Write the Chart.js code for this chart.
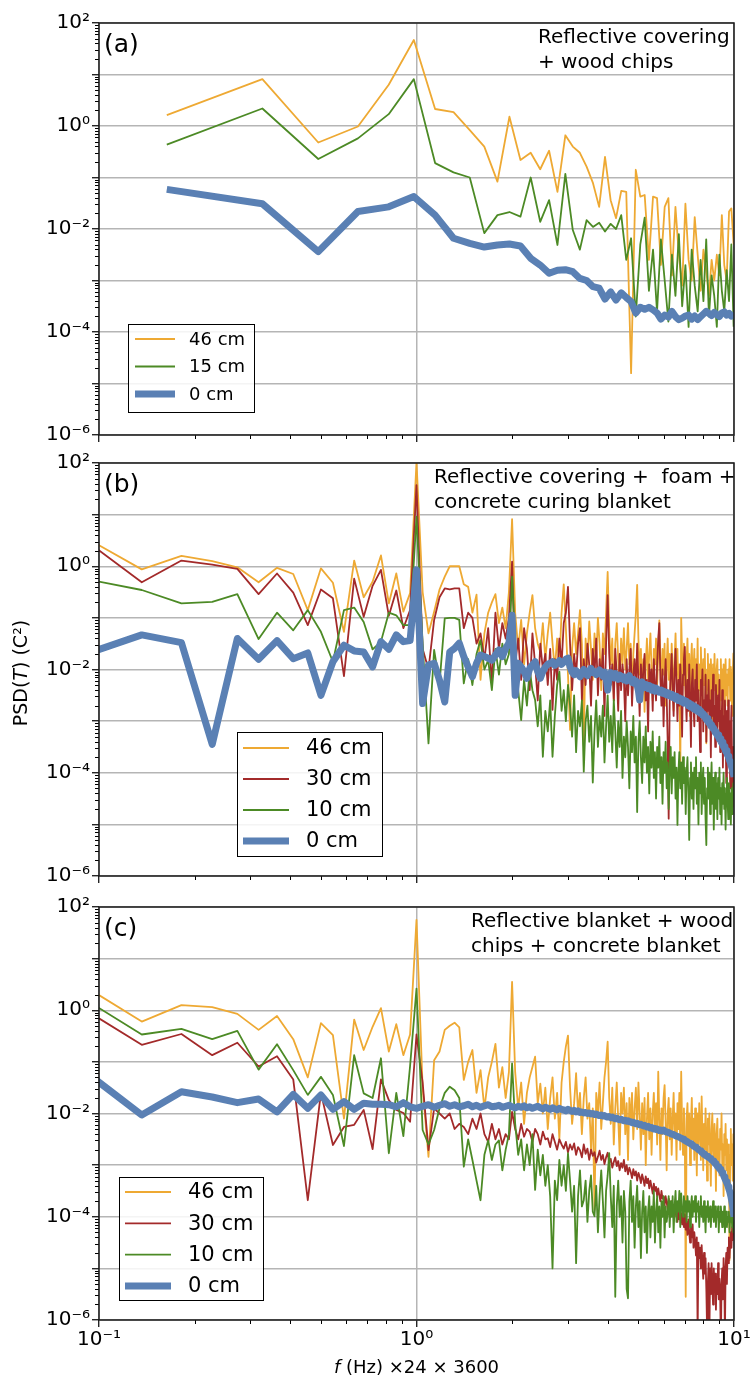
<!DOCTYPE html>
<html>
<head>
<meta charset="utf-8">
<script src="https://cdn.jsdelivr.net/npm/chart.js@4.4.1/dist/chart.umd.min.js"></script>
<style>
  html, body { margin: 0; padding: 0; background: #fff; }
  #wrap { position: relative; width: 750px; height: 1379px; overflow: hidden; }
  canvas { position: absolute; left: 0; }
</style>
</head>
<body>
<div id="wrap">
  <canvas id="panelA" width="750" height="455" style="top:0px"></canvas>
  <canvas id="panelB" width="750" height="446" style="top:440px"></canvas>
  <canvas id="panelC" width="750" height="499" style="top:880px"></canvas>
</div>
<script>
const FAMILY = "'DejaVu Sans', sans-serif";
const GRID = '#b5b5b5';

const COL_46 = '#eea933';
const COL_30 = '#a32a2a';
const COL_MID = '#4c8a25';
const COL_0 = '#5a80b4';

// frequency bins (x = bin * k)
const binA = 0.1635, firstBinA = 1;
const binBC = 1 / 22, firstBinBC = 2;

// ticks
const xTicks = [0.1, 0.2, 0.3, 0.4, 0.5, 0.6, 0.7, 0.8, 0.9, 1, 2, 3, 4, 5, 6, 7, 8, 9, 10];
const xLabelExps = [-1, 0, 1];
const xTickLabels = ['10⁻¹', '10⁰', '10¹'];
const yDecadeExps = [-6, -5, -4, -3, -2, -1, 0, 1];
const yLabelExps = [2, 0, -2, -4, -6];
const yTickLabels = ['10²', '10⁰', '10⁻²', '10⁻⁴', '10⁻⁶'];

// ---- panel (a): log10 PSD, k = 1..61 ----
const logA46 = [
  0.21, 0.91, -0.32, -0.01, 0.80, 1.67, 0.33, 0.27, -0.08, -0.40,
  -1.08, 0.18, -0.66, -0.52, -0.84, -0.48, -1.28, -0.18, -0.40, -0.52,
  -0.79, -1.11, -1.57, -0.60, -1.44, -1.79, -1.26, -1.28, -4.80, -0.85,
  -1.37, -1.34, -2.60, -1.37, -1.40, -2.70, -1.57, -1.40, -2.90, -1.57,
  -2.50, -3.10, -1.51, -2.60, -3.00, -1.77, -2.50, -3.20, -2.40, -2.80,
  -3.30, -2.60, -3.00, -2.50, -2.90, -1.73, -2.70, -3.00, -1.66, -1.60,
  -2.30
];
const logA15 = [
  -0.36, 0.34, -0.64, -0.24, 0.23, 0.91, -0.72, -0.90, -1.00, -2.08,
  -1.73, -1.67, -1.76, -1.00, -1.86, -1.44, -2.31, -0.93, -2.02, -2.40,
  -1.83, -1.96, -1.88, -2.05, -1.90, -2.00, -1.73, -2.60, -2.18, -3.70,
  -2.30, -1.78, -3.20, -2.40, -3.60, -2.20, -3.00, -3.80, -2.50, -3.30,
  -2.10, -3.50, -2.70, -3.90, -2.40, -3.10, -3.60, -2.60, -3.40, -2.20,
  -3.70, -2.90, -3.30, -3.90, -2.50, -3.20, -3.60, -2.80, -3.40, -2.30,
  -3.90
];
const logA0 = [
  -1.23, -1.51, -2.44, -1.66, -1.57, -1.37, -1.73, -2.18, -2.28, -2.35,
  -2.31, -2.29, -2.33, -2.57, -2.70, -2.86, -2.80, -2.79, -2.83, -2.96,
  -3.00, -3.12, -3.15, -3.36, -3.22, -3.38, -3.24, -3.33, -3.41, -3.63,
  -3.52, -3.56, -3.52, -3.57, -3.63, -3.75, -3.67, -3.71, -3.60, -3.70,
  -3.76, -3.73, -3.69, -3.67, -3.75, -3.69, -3.76, -3.70, -3.65, -3.60,
  -3.64, -3.68, -3.62, -3.66, -3.70, -3.63, -3.61, -3.67, -3.64, -3.69,
  -3.62
];

// ---- panel (b): log10 PSD, k = 2..220 ----
const logB46 = [
  0.55, -0.06, 0.20, 0.10, -0.02, -0.31, -0.03, -0.15, -0.85, -0.04,
  -0.32, -1.27, 0.11, -0.60, -0.30, 0.21, -0.72, -0.14, -0.88, -0.52,
  2.02, -0.50, -1.30, -0.88, -0.45, -0.20, 0.00, 0.00, 0.00, -0.35,
  -0.40, -0.90, -0.55, -2.20, -1.30, -0.90, -0.70, -0.54, -1.10, -0.80,
  -1.20, -0.50, 0.91, -0.90, -1.60, -1.04, -1.90, -1.30, -0.90, -0.56,
  -1.20, -1.50, -1.66, -1.10, -1.80, -1.30, -0.90, -1.50, -2.00, -1.40,
  -1.92, -0.90, -0.35, -1.20, -2.10, -3.17, -1.60, -1.10, -1.70, -1.30,
  -0.85, -1.50, -3.47, -1.40, -1.90, -1.07, -1.60, -2.20, -1.30, -1.80,
  -1.00, -1.50, -2.40, -1.30, -1.70, -0.90, -0.11, -1.20, -1.90, -1.40,
  -2.60, -1.50, -1.10, -1.80, -2.30, -1.40, -1.90, -1.20, -2.00, -1.60,
  -1.10, -1.90, -1.50, -2.50, -1.70, -1.30, -0.90, -0.36, -1.40, -2.10,
  -1.60, -2.40, -1.80, -2.82, -1.90, -1.40, -2.20, -1.70, -1.30, -2.00,
  -2.60, -1.60, -1.90, -1.40, -2.30, -1.70, -1.05, -1.80, -2.40, -1.60,
  -2.10, -1.50, -2.70, -1.90, -1.40, -2.20, -1.70, -2.50, -1.50, -2.00,
  -2.80, -1.80, -1.30, -2.10, -1.60, -2.40, -1.90, -4.08, -1.00, -1.70,
  -2.30, -1.50, -2.00, -2.60, -1.80, -1.40, -2.20, -1.70, -2.90, -1.90,
  -1.50, -2.30, -2.00, -1.60, -2.50, -1.80, -2.20, -1.40, -2.70, -1.90,
  -2.40, -1.57, -2.10, -2.80, -1.80, -2.30, -1.60, -2.50, -3.43, -2.00,
  -1.70, -2.40, -1.90, -2.60, -1.80, -2.20, -3.00, -1.90, -2.40, -1.70,
  -2.30, -2.80, -2.00, -1.80, -2.50, -2.10, -3.10, -2.20, -1.80, -2.60,
  -2.00, -2.40, -1.90, -2.90, -2.20, -1.80, -2.50, -2.10, -2.70, -2.00,
  -2.30, -1.80, -2.60, -1.95, -2.40, -2.90, -2.10, -1.69, -2.30
];
const logB30 = [
  0.50, -0.31, 0.11, 0.03, -0.05, -0.54, -0.14, -0.51, -1.14, -0.45,
  -0.62, -2.13, -0.24, -0.98, -0.38, -0.07, -0.96, -0.47, -1.20, -0.85,
  1.57, -1.60, -2.00, -1.04, -0.60, -0.43, -0.45, -0.43, -0.43, -1.20,
  -0.90, -1.00, -1.50, -1.30, -1.80, -1.20, -2.27, -0.90, -1.60, -1.10,
  -1.40, -1.00, 0.09, -1.90, -1.40, -2.20, -1.20, -1.60, -2.40, -1.30,
  -1.90, -2.60, -1.50, -2.00, -1.70, -2.30, -1.60, -2.78, -1.80, -2.20,
  -1.40, -1.90, -1.10, -0.90, -0.40, -1.50, -2.40, -1.70, -2.10, -1.50,
  -1.20, -2.60, -1.80, -2.30, -1.50, -1.90, -2.70, -1.60, -2.10, -1.40,
  -2.50, -1.80, -2.20, -1.60, -2.90, -1.50, -0.56, -1.70, -2.30, -1.90,
  -2.60, -1.60, -2.10, -2.80, -1.70, -2.40, -1.90, -2.20, -3.00, -1.80,
  -2.50, -2.00, -1.60, -2.70, -2.10, -1.80, -2.40, -1.50, -2.20, -2.90,
  -1.90, -2.50, -2.00, -1.70, -2.60, -2.20, -3.20, -1.90, -2.40, -2.00,
  -2.80, -1.80, -2.30, -2.60, -1.90, -1.40, -1.10, -2.20, -2.70, -2.00,
  -3.10, -2.30, -1.80, -2.50, -3.40, -4.89, -2.60, -2.10, -1.70, -2.40,
  -2.90, -2.00, -1.60, -2.30, -3.00, -2.20, -2.70, -1.90, -2.40, -3.30,
  -2.10, -1.80, -1.56, -2.50, -3.00, -2.20, -2.80, -1.90, -2.60, -3.50,
  -2.30, -2.00, -2.70, -3.10, -2.20, -2.60, -1.90, -3.00, -2.40, -2.80,
  -3.60, -2.20, -2.50, -2.00, -3.20, -2.60, -2.90, -2.10, -3.40, -2.50,
  -2.80, -2.20, -3.00, -2.60, -3.70, -2.40, -2.90, -2.10, -3.10, -2.70,
  -3.50, -2.30, -2.90, -3.30, -2.50, -3.00, -2.20, -3.60, -2.80, -3.20,
  -2.40, -3.90, -2.90, -3.40, -2.60, -3.10, -4.20, -2.80, -3.50, -2.60,
  -3.80, -3.00, -4.30, -3.20, -2.70, -3.90, -4.66, -3.50, -4.00
];
const logB10 = [
  -0.25, -0.46, -0.72, -0.69, -0.54, -1.41, -0.90, -1.24, -0.85, -1.27,
  -1.85, -0.85, -0.80, -1.08, -1.61, -1.46, -0.90, -0.95, -1.14, -1.14,
  0.96, -1.50, -3.43, -1.62, -2.27, -1.01, -1.00, -1.00, -1.04, -2.27,
  -1.80, -2.30, -1.70, -1.43, -2.00, -1.82, -2.40, -1.60, -2.10, -1.50,
  -1.90, -1.70, -0.20, -1.50, -2.40, -2.98, -2.20, -2.70, -2.00, -2.40,
  -2.59, -3.10, -2.50, -3.69, -2.80, -3.20, -2.60, -3.69, -2.90, -2.30,
  -2.04, -2.80, -2.40, -3.00, -2.30, -2.70, -3.30, -2.50, -3.60, -2.80,
  -3.10, -2.60, -3.98, -3.00, -2.70, -3.40, -2.90, -4.19, -3.20, -2.60,
  -3.50, -2.90, -3.30, -2.70, -3.80, -3.10, -2.50, -3.40, -2.90, -3.60,
  -2.59, -3.20, -3.90, -3.00, -3.50, -2.80, -4.10, -3.30, -3.70, -3.00,
  -3.50, -4.30, -3.20, -3.60, -2.90, -3.80, -3.30, -4.76, -3.40, -3.00,
  -3.70, -4.20, -3.30, -3.80, -3.10, -4.00, -3.50, -4.40, -3.40, -3.90,
  -3.20, -4.10, -3.60, -4.50, -3.50, -3.90, -3.30, -4.20, -3.70, -4.60,
  -3.60, -4.00, -3.40, -4.30, -3.80, -4.70, -3.90, -3.50, -4.40, -3.70,
  -4.10, -3.60, -4.50, -3.90, -5.01, -4.00, -3.60, -4.30, -3.80, -4.60,
  -3.70, -4.20, -3.90, -4.80, -4.00, -3.70, -4.40, -5.30, -4.10, -3.80,
  -4.50, -4.00, -4.70, -3.90, -4.30, -3.70, -4.60, -4.10, -5.00, -4.00,
  -4.40, -3.80, -4.80, -4.20, -3.90, -4.60, -4.10, -4.90, -5.40, -4.30,
  -3.90, -4.50, -4.00, -4.80, -4.20, -3.80, -4.60, -4.10, -5.10, -4.30,
  -4.00, -4.70, -4.20, -4.90, -4.10, -4.50, -3.90, -4.80, -4.30, -5.00,
  -4.20, -4.60, -4.00, -4.70, -4.30, -5.10, -4.40, -4.10, -4.53, -4.90,
  -4.20, -4.70, -4.40, -5.00, -4.30, -4.80, -4.60, -4.20, -4.50
];
const logB0 = [
  -1.70, -1.33, -1.48, -3.45, -1.40, -1.80, -1.44, -1.79, -1.68, -2.50,
  -1.85, -1.53, -1.64, -1.66, -1.95, -1.46, -1.61, -1.33, -1.46, -1.44,
  -0.07, -2.66, -1.91, -1.88, -2.21, -2.63, -1.66, -1.59, -1.49, -1.75,
  -1.95, -2.14, -1.88, -1.72, -1.75, -1.78, -1.82, -1.72, -1.62, -1.75,
  -1.59, -1.49, -0.95, -2.50, -1.88, -1.95, -2.04, -2.17, -1.98, -1.91,
  -1.85, -2.04, -2.17, -2.04, -1.95, -1.90, -1.88, -1.85, -1.92, -1.87,
  -1.83, -1.90, -1.86, -1.80, -1.78, -1.95, -2.05, -2.10, -2.02, -2.08,
  -2.14, -2.06, -2.00, -2.09, -2.12, -2.03, -1.98, -2.06, -2.04, -2.10,
  -2.07, -2.01, -2.08, -2.13, -2.05, -2.15, -2.40, -2.12, -2.06, -2.10,
  -2.16, -2.08, -2.13, -2.19, -2.11, -2.17, -2.14, -2.20, -2.15, -2.22,
  -2.17, -2.12, -2.21, -2.25, -2.19, -2.27, -2.22, -2.30, -2.41, -2.59,
  -2.28, -2.24, -2.31, -2.35, -2.29, -2.33, -2.37, -2.31, -2.36, -2.40,
  -2.34, -2.38, -2.42, -2.36, -2.41, -2.39, -2.44, -2.43, -2.40, -2.46,
  -2.42, -2.47, -2.44, -2.49, -2.45, -2.50, -2.47, -2.52, -2.48, -2.54,
  -2.50, -2.53, -2.57, -2.52, -2.56, -2.60, -2.55, -2.59, -2.62, -2.57,
  -2.61, -2.65, -2.60, -2.64, -2.62, -2.66, -2.70, -2.65, -2.69, -2.73,
  -2.68, -2.72, -2.76, -2.71, -2.75, -2.79, -2.74, -2.78, -2.82, -2.77,
  -2.81, -2.85, -2.83, -2.88, -2.86, -2.91, -2.89, -2.94, -2.97, -2.95,
  -3.00, -3.03, -3.01, -3.06, -3.09, -3.07, -3.12, -3.15, -3.14, -3.18,
  -3.22, -3.20, -3.25, -3.28, -3.27, -3.32, -3.35, -3.34, -3.39, -3.42,
  -3.41, -3.46, -3.50, -3.49, -3.54, -3.58, -3.57, -3.62, -3.66, -3.68,
  -3.72, -3.76, -3.79, -3.84, -3.88, -3.92, -3.97, -4.02, -4.08
];

// ---- panel (c): log10 PSD, k = 2..220 ----
const logC46 = [
  0.45, -0.22, 0.10, 0.06, -0.07, -0.38, -0.11, -0.56, -1.30, -0.25,
  -0.48, -2.10, -0.18, -0.77, -0.32, 0.04, -0.80, -0.27, -0.87, -0.47,
  1.75, -1.50, -2.84, -0.97, -0.80, -0.38, -0.30, -0.24, -0.33, -1.35,
  -1.00, -0.77, -1.60, -1.16, -1.90, -1.30, -1.00, -0.65, -1.50, -1.10,
  -1.70, -1.20, 0.55, -1.20, -1.90, -1.40, -2.20, -1.60, -1.30, -1.10,
  -0.90, -1.80, -1.42, -2.00, -1.50, -2.30, -1.70, -1.30, -2.10, -1.60,
  -2.50, -1.40, -1.00, -0.70, -0.49, -1.50, -2.20, -1.80, -1.22, -2.00,
  -1.60, -2.40, -1.70, -1.30, -2.10, -1.80, -2.70, -1.90, -3.87, -1.60,
  -2.00, -1.40, -2.30, -1.80, -1.30, -1.00, -0.61, -1.70, -2.20, -1.50,
  -2.60, -1.90, -1.40, -2.10, -2.80, -1.60, -2.00, -1.50, -2.40, -1.80,
  -2.90, -1.70, -2.20, -1.60, -2.50, -1.90, -1.50, -2.30, -1.40, -2.00,
  -2.70, -1.80, -2.40, -1.70, -3.00, -2.10, -1.60, -2.50, -1.90, -2.80,
  -2.00, -1.60, -2.30, -1.80, -2.60, -1.19, -2.10, -2.90, -1.90, -2.40,
  -1.70, -1.45, -2.20, -3.10, -2.00, -1.70, -2.50, -1.90, -2.80, -2.10,
  -1.60, -2.40, -2.00, -2.90, -1.80, -2.30, -1.60, -2.70, -1.19, -2.20,
  -2.80, -1.90, -2.50, -5.55, -2.10, -1.80, -2.60, -2.00, -3.00, -2.20,
  -1.70, -2.50, -2.10, -2.90, -1.90, -2.40, -3.20, -2.00, -2.60, -1.80,
  -2.30, -2.90, -1.67, -2.40, -3.10, -2.20, -2.70, -1.90, -2.50, -3.30,
  -2.10, -2.60, -2.00, -2.80, -3.40, -2.30, -2.00, -2.70, -3.00, -2.20,
  -2.60, -3.50, -2.40, -2.10, -2.90, -2.50, -3.20, -2.30, -2.70, -2.00,
  -3.00, -2.60, -3.60, -2.40, -2.80, -2.20, -3.10, -2.50, -2.90, -3.40,
  -2.60, -4.84, -2.80, -2.30, -3.00, -2.60, -3.30, -2.40, -2.90
];
const logC30 = [
  0.00, -0.67, -0.46, -0.87, -0.63, -1.09, -0.89, -1.34, -3.68, -1.60,
  -2.61, -2.26, -2.22, -1.93, -2.69, -1.34, -1.74, -1.93, -1.99, -2.16,
  -0.47, -1.40, -2.71, -1.90, -2.00, -2.10, -2.00, -2.30, -2.20, -2.26,
  -2.40, -2.10, -2.30, -2.00, -2.40, -2.55, -2.20, -2.50, -2.30, -2.60,
  -2.40, -2.50, -1.97, -2.30, -2.50, -2.20, -2.45, -2.30, -2.35, -2.55,
  -2.30, -2.40, -2.60, -2.35, -2.50, -2.48, -2.65, -2.40, -2.55, -2.70,
  -2.50, -2.60, -2.68, -2.55, -2.75, -2.60, -2.70, -2.58, -2.80, -2.65,
  -2.71, -2.85, -2.60, -2.78, -2.68, -2.90, -2.70, -2.82, -2.75, -2.95,
  -2.84, -2.72, -2.90, -2.80, -2.98, -2.85, -2.76, -2.95, -2.88, -3.05,
  -2.94, -2.85, -3.02, -2.92, -3.10, -2.96, -3.05, -2.90, -3.12, -3.00,
  -3.18, -3.05, -3.13, -3.25, -3.08, -3.20, -3.12, -3.30, -3.15, -3.22,
  -3.35, -3.18, -3.28, -3.40, -3.22, -3.35, -3.26, -3.45, -3.30, -3.42,
  -3.55, -3.36, -3.50, -3.42, -3.60, -3.45, -3.58, -3.70, -3.50, -3.65,
  -3.61, -3.78, -3.60, -3.72, -3.85, -3.65, -3.80, -3.92, -3.70, -3.88,
  -3.78, -4.00, -3.82, -3.95, -4.10, -3.88, -4.05, -3.90, -3.94, -4.15,
  -4.00, -4.20, -3.95, -4.25, -4.10, -4.35, -4.05, -4.30, -4.50, -4.20,
  -4.40, -4.15, -4.60, -4.30, -4.50, -4.75, -4.40, -6.30, -4.50, -4.80,
  -4.60, -5.00, -4.55, -4.90, -5.20, -4.70, -5.10, -4.80, -5.40, -6.20,
  -5.29, -4.90, -6.40, -5.00, -5.50, -4.90, -5.30, -5.70, -5.00, -5.40,
  -5.10, -5.80, -5.20, -5.50, -4.90, -5.60, -5.20, -5.48, -6.50, -5.30,
  -5.00, -5.60, -4.80, -5.20, -6.30, -5.00, -4.70, -5.30, -4.60, -4.90,
  -4.40, -4.80, -4.50, -4.30, -4.60, -4.20, -4.45, -4.25, -4.30
];
const logC10 = [
  0.20, -0.47, -0.36, -0.56, -0.40, -1.15, -0.66, -1.16, -1.64, -1.29,
  -1.64, -2.63, -0.87, -1.61, -1.70, -0.93, -2.77, -1.60, -2.44, -1.08,
  0.42, -2.32, -2.60, -2.32, -1.90, -1.60, -1.48, -1.55, -1.70, -3.03,
  -2.50, -2.90, -3.30, -3.68, -2.80, -2.52, -2.90, -2.60, -2.52, -3.10,
  -2.70, -2.40, -1.03, -2.20, -2.80, -2.50, -3.10, -2.60, -3.00, -2.40,
  -3.48, -2.70, -3.20, -2.80, -3.40, -3.00, -3.60, -5.00, -3.30, -3.68,
  -2.90, -3.40, -3.00, -3.50, -2.77, -3.30, -3.90, -3.40, -4.90, -3.60,
  -3.10, -3.80, -3.68, -3.30, -4.10, -3.50, -3.20, -3.90, -3.99, -3.40,
  -4.30, -3.60, -3.10, -3.70, -4.40, -3.50, -3.20, -2.77, -3.60, -4.20,
  -3.40, -5.55, -3.80, -3.30, -4.00, -3.60, -4.50, -3.50, -3.90, -5.40,
  -5.58, -3.70, -3.30, -4.10, -3.60, -4.60, -3.80, -3.40, -4.20, -3.70,
  -4.80, -3.90, -3.50, -4.30, -3.80, -4.70, -3.90, -3.60, -4.40, -3.80,
  -4.10, -3.50, -4.50, -3.90, -3.60, -4.30, -3.80, -4.60, -3.70, -4.00,
  -3.60, -4.40, -3.80, -4.10, -3.93, -3.60, -4.20, -3.70, -4.00, -3.60,
  -4.30, -3.80, -3.50, -4.10, -3.70, -3.90, -3.50, -4.20, -3.55, -3.80,
  -4.00, -3.60, -3.90, -3.70, -4.10, -3.60, -3.90, -3.70, -4.20, -3.80,
  -3.60, -4.00, -3.70, -3.90, -3.60, -4.10, -3.74, -3.90, -3.70, -4.20,
  -3.80, -3.60, -4.00, -3.80, -4.10, -3.70, -3.90, -4.30, -3.80, -4.00,
  -3.70, -4.10, -3.90, -3.80, -4.20, -3.90, -4.00, -3.70, -4.10, -4.00,
  -3.80, -4.20, -3.90, -4.00, -3.80, -4.30, -3.90, -4.10, -3.80, -4.00,
  -4.20, -3.90, -4.10, -3.80, -4.30, -4.00, -3.90, -4.20, -4.00, -4.10,
  -3.90, -4.30, -4.00, -4.10, -3.90, -4.20, -4.00, -4.30, -4.10
];
const logC0 = [
  -1.20, -2.03, -1.58, -1.68, -1.79, -1.72, -1.97, -1.63, -1.90, -1.64,
  -1.92, -1.77, -1.92, -1.80, -1.82, -1.82, -1.83, -1.87, -1.79, -1.87,
  -1.90, -1.86, -1.83, -1.88, -1.84, -1.81, -1.86, -1.83, -1.87, -1.85,
  -1.82, -1.87, -1.84, -1.88, -1.85, -1.83, -1.87, -1.86, -1.84, -1.88,
  -1.86, -1.84, -1.87, -1.89, -1.86, -1.88, -1.85, -1.89, -1.87, -1.90,
  -1.88, -1.86, -1.89, -1.91, -1.88, -1.90, -1.92, -1.89, -1.91, -1.93,
  -1.90, -1.92, -1.93, -1.95, -1.92, -1.94, -1.96, -1.94, -1.97, -1.95,
  -1.98, -1.97, -1.99, -1.98, -2.00, -1.99, -2.01, -2.00, -2.02, -2.01,
  -2.03, -2.04, -2.03, -2.05, -2.04, -2.06, -2.07, -2.06, -2.08, -2.07,
  -2.09, -2.10, -2.09, -2.11, -2.12, -2.11, -2.13, -2.14, -2.13, -2.15,
  -2.14, -2.16, -2.16, -2.18, -2.17, -2.19, -2.20, -2.19, -2.21, -2.22,
  -2.21, -2.23, -2.24, -2.23, -2.25, -2.26, -2.25, -2.27, -2.28, -2.27,
  -2.29, -2.30, -2.29, -2.31, -2.30, -2.32, -2.33, -2.32, -2.34, -2.33,
  -2.32, -2.34, -2.35, -2.36, -2.36, -2.37, -2.38, -2.39, -2.40, -2.40,
  -2.41, -2.42, -2.43, -2.44, -2.44, -2.45, -2.46, -2.47, -2.48, -2.49,
  -2.50, -2.51, -2.52, -2.53, -2.54, -2.55, -2.56, -2.57, -2.58, -2.59,
  -2.60, -2.61, -2.63, -2.64, -2.65, -2.66, -2.67, -2.68, -2.70, -2.71,
  -2.72, -2.73, -2.75, -2.76, -2.77, -2.79, -2.80, -2.81, -2.82, -2.83,
  -2.84, -2.85, -2.86, -2.87, -2.88, -2.90, -2.91, -2.92, -2.94, -2.95,
  -2.97, -2.98, -3.00, -3.02, -3.03, -3.05, -3.07, -3.08, -3.10, -3.12,
  -3.15, -3.17, -3.20, -3.23, -3.26, -3.29, -3.32, -3.35, -3.38, -3.42,
  -3.46, -3.50, -3.55, -3.60, -3.66, -3.73, -3.81, -3.90, -4.00
];

// ---------------------------------------------------------------
Chart.defaults.font.family = FAMILY;
Chart.defaults.color = '#000';

function isDecade(v) {
  const l = Math.log10(v);
  return Math.abs(l - Math.round(l)) < 1e-6;
}

const yTicks = [];
yDecadeExps.forEach(e => {
  for (let m = 1; m <= 9; m++) yTicks.push(m * Math.pow(10, e));
});
yTicks.push(100);

function xLabel(v) {
  if (!isDecade(v)) return '';
  const i = xLabelExps.indexOf(Math.round(Math.log10(v)));
  return i < 0 ? '' : xTickLabels[i];
}
function yLabel(v) {
  if (!isDecade(v)) return '';
  const i = yLabelExps.indexOf(Math.round(Math.log10(v)));
  return i < 0 ? '' : yTickLabels[i];
}

function series(label, color, width, order, logVals, bin, k0) {
  return {
    label: label,
    data: logVals.map((v, i) => ({ x: (k0 + i) * bin, y: Math.pow(10, v) })),
    borderColor: color,
    borderWidth: width,
    pointRadius: 0,
    tension: 0,
    fill: false,
    order: order,
    clip: 0,
    borderJoinStyle: 'round'
  };
}

function drawRich(ctx, parts, size, x, y) {
  // parts: [text, italic]
  const fonts = parts.map(p => (p[1] ? 'italic ' : '') + size + 'px ' + FAMILY);
  let total = 0;
  const widths = parts.map((p, i) => { ctx.font = fonts[i]; const w = ctx.measureText(p[0]).width; total += w; return w; });
  let cx = x - total / 2;
  parts.forEach((p, i) => { ctx.font = fonts[i]; ctx.fillText(p[0], cx, y); cx += widths[i]; });
}

const panelDecor = {
  id: 'panelDecor',
  afterDraw(chart, args, o) {
    const ctx = chart.ctx;
    const a = chart.chartArea;
    const xs = chart.scales.x, ys = chart.scales.y;
    ctx.save();

    // minor ticks
    ctx.strokeStyle = '#000';
    ctx.lineWidth = 1;
    ctx.beginPath();
    xs.ticks.forEach(t => {
      if (isDecade(t.value)) return;
      const p = Math.round(xs.getPixelForValue(t.value)) + 0.5;
      ctx.moveTo(p, a.bottom); ctx.lineTo(p, a.bottom + 4);
    });
    ys.ticks.forEach(t => {
      if (isDecade(t.value)) return;
      const p = Math.round(ys.getPixelForValue(t.value)) + 0.5;
      ctx.moveTo(a.left - 4, p); ctx.lineTo(a.left, p);
    });
    ctx.stroke();

    // frame
    ctx.strokeStyle = '#1a1a1a';
    ctx.lineWidth = 1.5;
    ctx.strokeRect(a.left, a.top, a.right - a.left, a.bottom - a.top);

    // panel letter + note
    ctx.fillStyle = '#000';
    ctx.textAlign = 'left';
    ctx.textBaseline = 'alphabetic';
    ctx.font = '25px ' + FAMILY;
    ctx.fillText(o.letter, a.left + 5, a.top + 28.5);
    ctx.font = '20px ' + FAMILY;
    o.note.forEach((s, i) => ctx.fillText(s, o.noteX, a.top + 19.5 + i * 25.5));

    // legend box
    const lg = o.legend;
    const bx = a.left + lg.dx, by = a.top + lg.dy;
    ctx.fillStyle = 'rgba(255,255,255,0.85)';
    ctx.fillRect(bx, by, lg.w, lg.h);
    ctx.strokeStyle = '#000';
    ctx.lineWidth = 1;
    ctx.strokeRect(bx + 0.5, by + 0.5, lg.w, lg.h);
    ctx.font = lg.size + 'px ' + FAMILY;
    ctx.textBaseline = 'middle';
    chart.data.datasets.forEach((ds, i) => {
      const cy = by + lg.row0 + i * lg.gap;
      ctx.strokeStyle = ds.borderColor;
      ctx.lineWidth = ds.borderWidth;
      ctx.lineCap = 'butt';
      ctx.beginPath();
      ctx.moveTo(bx + lg.s0, cy); ctx.lineTo(bx + lg.s1, cy);
      ctx.stroke();
      ctx.fillStyle = '#000';
      ctx.fillText(ds.label, bx + lg.tx, cy + 1);
    });

    // axis titles
    ctx.textBaseline = 'alphabetic';
    if (o.yTitle) {
      ctx.save();
      ctx.translate(o.yTitle.x, o.yTitle.y);
      ctx.rotate(-Math.PI / 2);
      drawRich(ctx, [['PSD(', false], ['T', true], [') (C²)', false]], 19, 0, 0);
      ctx.restore();
    }
    if (o.xTitle) {
      drawRich(ctx, [['f', true], [' (Hz) ×24 × 3600', false]], 18, o.xTitle.x, o.xTitle.y);
    }
    ctx.restore();
  }
};

function makePanel(id, datasets, deco, padTop, xAxisH, showX) {
  return new Chart(document.getElementById(id), {
    type: 'line',
    data: { datasets: datasets },
    options: {
      responsive: false,
      maintainAspectRatio: false,
      animation: false,
      events: [],
      layout: { padding: { top: padTop, right: 16, bottom: 0, left: 0 } },
      plugins: {
        legend: { display: false },
        tooltip: { enabled: false },
        panelDecor: deco
      },
      scales: {
        x: {
          type: 'logarithmic',
          min: 0.1,
          max: 10,
          afterBuildTicks: s => { s.ticks = xTicks.map(v => ({ value: v })); },
          afterFit: s => { s.height = xAxisH; s.paddingLeft = 0; s.paddingRight = 0; },
          border: { display: false },
          grid: {
            color: c => (c.tick && isDecade(c.tick.value)) ? GRID : 'rgba(0,0,0,0)',
            lineWidth: 1.5,
            drawTicks: true,
            tickLength: 7,
            tickWidth: 1.2,
            tickColor: c => (c.tick && isDecade(c.tick.value)) ? '#000' : 'rgba(0,0,0,0)'
          },
          ticks: {
            autoSkip: false,
            maxRotation: 0,
            minRotation: 0,
            padding: 1,
            color: '#000',
            font: { family: FAMILY, size: 20 },
            callback: v => showX ? xLabel(v) : ''
          }
        },
        y: {
          type: 'logarithmic',
          min: 1e-6,
          max: 100,
          afterBuildTicks: s => { s.ticks = yTicks.map(v => ({ value: v })); },
          afterFit: s => { s.width = 99; s.paddingTop = 0; s.paddingBottom = 0; },
          border: { display: false },
          grid: {
            color: c => (c.tick && isDecade(c.tick.value)) ? GRID : 'rgba(0,0,0,0)',
            lineWidth: 1.5,
            drawTicks: true,
            tickLength: 7,
            tickWidth: 1.2,
            tickColor: c => (c.tick && isDecade(c.tick.value)) ? '#000' : 'rgba(0,0,0,0)'
          },
          ticks: {
            autoSkip: false,
            padding: 2,
            color: '#000',
            font: { family: FAMILY, size: 20 },
            callback: v => yLabel(v)
          }
        }
      }
    },
    plugins: [panelDecor]
  });
}

makePanel('panelA', [
  series('46 cm', COL_46, 1.8, 3, logA46, binA, firstBinA),
  series('15 cm', COL_MID, 1.8, 2, logA15, binA, firstBinA),
  series('0 cm', COL_0, 7, 0, logA0, binA, firstBinA)
], {
  letter: '(a)',
  note: ['Reflective covering', '+ wood chips'],
  noteX: 538,
  legend: { dx: 29, dy: 301, w: 126, h: 88, row0: 15, gap: 27.5, s0: 7, s1: 47, tx: 61, size: 18 }
}, 23, 20, false);

makePanel('panelB', [
  series('46 cm', COL_46, 1.8, 3, logB46, binBC, firstBinBC),
  series('30 cm', COL_30, 1.8, 2, logB30, binBC, firstBinBC),
  series('10 cm', COL_MID, 1.8, 1, logB10, binBC, firstBinBC),
  series('0 cm', COL_0, 7, 0, logB0, binBC, firstBinBC)
], {
  letter: '(b)',
  note: ['Reflective covering +  foam +', 'concrete curing blanket'],
  noteX: 434,
  legend: { dx: 138, dy: 269, w: 145, h: 124, row0: 16, gap: 31, s0: 6, s1: 52, tx: 69, size: 21 },
  yTitle: { x: 27, y: 233 }
}, 23, 10, false);

makePanel('panelC', [
  series('46 cm', COL_46, 1.8, 3, logC46, binBC, firstBinBC),
  series('30 cm', COL_30, 1.8, 2, logC30, binBC, firstBinBC),
  series('10 cm', COL_MID, 1.8, 1, logC10, binBC, firstBinBC),
  series('0 cm', COL_0, 7, 0, logC0, binBC, firstBinBC)
], {
  letter: '(c)',
  note: ['Reflective blanket + wood', 'chips + concrete blanket'],
  noteX: 471,
  legend: { dx: 20, dy: 270, w: 144, h: 123, row0: 15, gap: 31.3, s0: 6, s1: 52, tx: 69, size: 21 },
  xTitle: { x: 416.5, y: 493 }
}, 27, 59, true);
</script>
</body>
</html>
